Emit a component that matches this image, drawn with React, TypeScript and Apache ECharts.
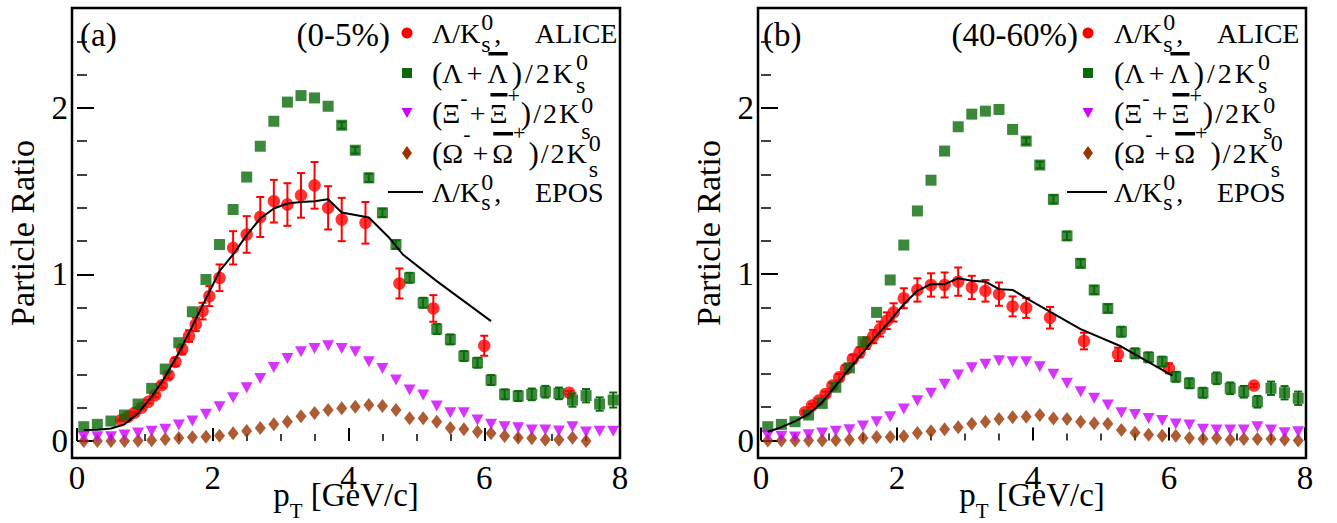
import React, { useEffect, useRef } from 'react';
import * as echarts from 'echarts';

const SERIF = "'Liberation Serif', 'Times New Roman', Times, 'DejaVu Serif', serif";
const RED = '#ff0000';
const GREEN = '#0a6a0a';
const VIOLET = '#cc00ff';
const BROWN = '#993300';

// pT bin centres (GeV/c) of the EPOS particle ratios
const ptBins = [
  0.1, 0.3, 0.5, 0.7, 0.9, 1.1, 1.3, 1.5, 1.7, 1.9, 2.1, 2.3, 2.5, 2.7, 2.9, 3.1, 3.3, 3.5, 3.7, 3.9,
  4.1, 4.3, 4.5, 4.7, 4.9, 5.1, 5.3, 5.5, 5.7, 5.9, 6.1, 6.3, 6.5, 6.7, 6.9, 7.1, 7.3, 7.5, 7.7, 7.9,
];

// ALICE Lambda/K0s measurement bins (GeV/c)
const alicePt = [
  0.65, 0.75, 0.85, 0.95, 1.05, 1.15, 1.25, 1.35, 1.45, 1.55, 1.65, 1.75, 1.85, 1.95, 2.1, 2.3, 2.5,
  2.7, 2.9, 3.1, 3.3, 3.5, 3.7, 3.9, 4.25, 4.75, 5.25, 6.0, 7.25,
];

// ---- (a) 0-5% ----
const aliceA = [
  0.125, 0.145, 0.17, 0.2, 0.235, 0.275, 0.335, 0.395, 0.475, 0.55, 0.63, 0.7, 0.78, 0.87, 0.98, 1.16,
  1.24, 1.345, 1.44, 1.42, 1.475, 1.535, 1.4, 1.33, 1.31, 0.946, 0.796, 0.572, 0.29,
];
const aliceErrA = [
  0.005, 0.005, 0.006, 0.008, 0.01, 0.012, 0.015, 0.02, 0.025, 0.03, 0.035, 0.04, 0.05, 0.06, 0.08, 0.1,
  0.11, 0.12, 0.128, 0.128, 0.134, 0.14, 0.13, 0.13, 0.125, 0.09, 0.08, 0.06, 0.01,
];
const lambdaA = [
  0.086, 0.1, 0.12, 0.156, 0.222, 0.316, 0.432, 0.59, 0.776, 0.97, 1.18, 1.39, 1.585, 1.77, 1.92, 2.035,
  2.074, 2.06, 2.01, 1.896, 1.746, 1.58, 1.37, 1.18, 0.98, 0.83, 0.672, 0.61, 0.51, 0.47, 0.366, 0.28,
  0.27, 0.28, 0.296, 0.286, 0.246, 0.272, 0.222, 0.246,
];
const lambdaErrA = [
  0, 0, 0, 0, 0, 0, 0, 0, 0, 0, 0, 0, 0, 0, 0, 0, 0, 0, 0, 0.02, 0.02, 0.025, 0.025, 0.025, 0.03, 0.03,
  0.03, 0.03, 0.03, 0.03, 0.03, 0.03, 0.03, 0.035, 0.035, 0.035, 0.04, 0.04, 0.04, 0.045,
];
const xiA = [
  0.026, 0.026, 0.026, 0.036, 0.048, 0.058, 0.07, 0.096, 0.12, 0.16, 0.206, 0.26, 0.32, 0.376, 0.442,
  0.496, 0.536, 0.556, 0.572, 0.556, 0.536, 0.476, 0.436, 0.366, 0.306, 0.276, 0.21, 0.17, 0.17, 0.126,
  0.1, 0.086, 0.08, 0.066, 0.066, 0.06, 0.086, 0.054, 0.058, 0.058,
];
const omegaA = [
  0.0, 0.0, 0.0, 0.0, 0.002, 0.005, 0.01, 0.018, 0.022, 0.026, 0.032, 0.046, 0.06, 0.078, 0.1, 0.115,
  0.148, 0.168, 0.186, 0.196, 0.206, 0.216, 0.21, 0.186, 0.136, 0.136, 0.116, 0.078, 0.07, 0.056, 0.046,
  0.03, 0.02, 0.016, 0.008, 0.008, 0.02, 0.0,
];
const eposPtA = [
  0.1, 0.3, 0.5, 0.7, 0.9, 1.1, 1.3, 1.5, 1.7, 1.9, 2.1, 2.3, 2.5, 2.7, 2.9, 3.1, 3.3, 3.5, 3.7, 3.9,
  4.3, 4.6, 4.8, 5.3, 6.1,
];
const eposA = [
  0.066, 0.068, 0.075, 0.1, 0.166, 0.266, 0.386, 0.53, 0.69, 0.855, 1.02, 1.12, 1.236, 1.336, 1.396,
  1.426, 1.435, 1.44, 1.452, 1.372, 1.342, 1.22, 1.12, 0.96, 0.72,
];

// ---- (b) 40-60% ----
const aliceB = [
  0.17, 0.21, 0.24, 0.28, 0.33, 0.38, 0.43, 0.49, 0.53, 0.585, 0.625, 0.67, 0.72, 0.77, 0.855, 0.905,
  0.935, 0.935, 0.955, 0.92, 0.9, 0.88, 0.806, 0.797, 0.738, 0.598, 0.518, 0.434, 0.33,
];
const aliceErrB = [
  0.008, 0.01, 0.012, 0.014, 0.016, 0.02, 0.022, 0.025, 0.03, 0.035, 0.04, 0.045, 0.05, 0.055, 0.06,
  0.07, 0.07, 0.075, 0.085, 0.07, 0.065, 0.07, 0.06, 0.06, 0.065, 0.05, 0.04, 0.03, 0.01,
];
const lambdaB = [
  0.083, 0.097, 0.113, 0.153, 0.223, 0.32, 0.437, 0.594, 0.77, 0.965, 1.175, 1.38, 1.565, 1.74, 1.886,
  1.962, 1.98, 1.99, 1.87, 1.8, 1.656, 1.45, 1.23, 1.065, 0.905, 0.794, 0.654, 0.524, 0.5, 0.474,
  0.383, 0.344, 0.287, 0.374, 0.314, 0.293, 0.233, 0.314, 0.287, 0.254,
];
const lambdaErrB = [
  0, 0, 0, 0, 0, 0, 0, 0, 0, 0, 0, 0, 0, 0, 0, 0, 0, 0, 0, 0.02, 0.02, 0.025, 0.025, 0.025, 0.025, 0.025,
  0.03, 0.03, 0.03, 0.03, 0.03, 0.03, 0.03, 0.035, 0.035, 0.035, 0.035, 0.04, 0.04, 0.04,
];
const xiB = [
  0.029, 0.025, 0.021, 0.035, 0.045, 0.055, 0.065, 0.087, 0.113, 0.143, 0.189, 0.239, 0.284, 0.338,
  0.394, 0.438, 0.458, 0.48, 0.474, 0.474, 0.444, 0.398, 0.344, 0.293, 0.254, 0.213, 0.167, 0.157,
  0.133, 0.12, 0.099, 0.093, 0.067, 0.063, 0.063, 0.063, 0.083, 0.063, 0.047, 0.053,
];
const omegaB = [
  0.0, 0.0, 0.0, 0.0, 0.0, 0.002, 0.005, 0.015, 0.021, 0.021, 0.025, 0.045, 0.055, 0.068, 0.079, 0.1,
  0.113, 0.13, 0.14, 0.143, 0.153, 0.133, 0.13, 0.113, 0.103, 0.1, 0.063, 0.047, 0.035, 0.029, 0.029,
  0.015, 0.009, 0.015, 0.005, 0.009, 0.009, 0.009, 0.005, 0.0,
];
const eposPtB = [
  0.1, 0.3, 0.5, 0.7, 0.9, 1.1, 1.3, 1.5, 1.7, 1.9, 2.1, 2.3, 2.5, 2.7, 2.9, 3.1, 3.3, 3.5, 3.7, 3.9,
  4.7, 5.3, 6.05,
];
const eposB = [
  0.053, 0.08, 0.115, 0.16, 0.23, 0.33, 0.43, 0.53, 0.63, 0.72, 0.82, 0.9, 0.94, 0.94, 0.975, 0.96,
  0.955, 0.91, 0.905, 0.856, 0.67, 0.565, 0.39,
];

const centralityLabels = ['(0-5%)', '(40-60%)'];
const panelTags = ['(a)', '(b)'];

type PanelData = {
  alice: number[];
  aliceErr: number[];
  lambda: number[];
  lambdaErr: number[];
  xi: number[];
  omega: number[];
  eposPt: number[];
  epos: number[];
};

const panels: PanelData[] = [
  { alice: aliceA, aliceErr: aliceErrA, lambda: lambdaA, lambdaErr: lambdaErrA, xi: xiA, omega: omegaA, eposPt: eposPtA, epos: eposA },
  { alice: aliceB, aliceErr: aliceErrB, lambda: lambdaB, lambdaErr: lambdaErrB, xi: xiB, omega: omegaB, eposPt: eposPtB, epos: eposB },
];

// frame geometry of the two pads: frame box and the pixel position of (0,0)
const pads = [
  { frameX: 72, frameW: 548, x0: 77, x8: 620, y0: 441 },
  { frameX: 758, frameW: 548, x0: 761, x8: 1305, y0: 440.5 },
];
const FRAME_TOP = 8;
const FRAME_BOTTOM = 458;
const Y_MAX = 2.6;

let measureCtx: CanvasRenderingContext2D | null = null;
function textWidth(t: string, size: number): number {
  if (!measureCtx) measureCtx = document.createElement('canvas').getContext('2d');
  measureCtx!.font = `${size}px ${SERIF}`;
  return measureCtx!.measureText(t).width;
}

function textEl(text: string, x: number, y: number, size: number, align = 'left', extra: any = {}) {
  return {
    type: 'text',
    x,
    y,
    silent: true,
    z: 50,
    ...extra,
    style: {
      text,
      fontSize: size,
      fontFamily: SERIF,
      fill: '#000',
      align,
      verticalAlign: 'middle',
      textAlign: align,
      textVerticalAlign: 'middle',
    },
  };
}

type Piece = { t: string; size?: number; dy?: number; gap?: number; bar?: number; stack?: boolean; at?: number };

// lays out a line of text made of sub/superscripted pieces
function textRun(pieces: Piece[], x0: number, cy: number, base = 28) {
  const els: any[] = [];
  let x = x0;
  let prevX = x0;
  for (const p of pieces) {
    const size = p.size ?? base;
    const w = textWidth(p.t, size);
    let px: number;
    if (p.stack) {
      px = prevX;
      x = Math.max(x, px + w);
    } else {
      px = p.at !== undefined ? x0 + p.at : x + (p.gap ?? 0);
      x = px + w;
      prevX = px;
    }
    els.push(textEl(p.t, px, cy + (p.dy ?? 0), size));
    if (p.bar !== undefined) {
      els.push({
        type: 'rect',
        x: px + 1,
        y: cy + p.bar,
        silent: true,
        z: 50,
        shape: { x: 0, y: 0, width: w - 1, height: 3.5 },
        style: { fill: '#000' },
      });
    }
  }
  return { els, width: x - x0 };
}

const SUP = 24;
const legendRows: Piece[][] = [
  [
    { t: 'Λ/K' },
    { t: '0', size: SUP, dy: -11, gap: 1 },
    { t: 's', size: SUP, dy: 11, stack: true },
    { t: ',', gap: 1 },
    { t: 'ALICE', at: 103 },
  ],
  [
    { t: '(', size: 31 },
    { t: 'Λ' },
    { t: '+', gap: 4 },
    { t: 'Λ', gap: 5, bar: -21 },
    { t: ')', size: 31, gap: 4 },
    { t: '/', gap: 3 },
    { t: '2', gap: 3 },
    { t: 'K', gap: 3 },
    { t: '0', size: SUP, dy: -11, gap: 3 },
    { t: 's', size: SUP, dy: 12, stack: true },
  ],
  [
    { t: '(', size: 31 },
    { t: 'Ξ' },
    { t: '-', size: 22, dy: -16 },
    { t: '+', gap: 2 },
    { t: 'Ξ', gap: 4, bar: -20 },
    { t: '+', size: 22, dy: -18 },
    { t: ')', size: 31, gap: 1 },
    { t: '/', gap: 2 },
    { t: '2', gap: 2 },
    { t: 'K', gap: 2 },
    { t: '0', size: SUP, dy: -8, gap: 2 },
    { t: 's', size: SUP, dy: 18, stack: true },
  ],
  [
    { t: '(', size: 31 },
    { t: 'Ω' },
    { t: '-', size: 22, dy: -20 },
    { t: '+', gap: 2 },
    { t: 'Ω', gap: 4, bar: -21 },
    { t: '+', size: 22, dy: -21 },
    { t: ')', size: 31, gap: 3 },
    { t: '/', gap: 2 },
    { t: '2', gap: 2 },
    { t: 'K', gap: 2 },
    { t: '0', size: SUP, dy: -10, gap: 2 },
    { t: 's', size: SUP, dy: 16, stack: true },
  ],
  [
    { t: 'Λ/K' },
    { t: '0', size: SUP, dy: -10, gap: 1 },
    { t: 's', size: SUP, dy: 10, stack: true },
    { t: ',', gap: 1 },
    { t: 'EPOS', at: 103 },
  ],
];
const legendRowY = [33, 73, 113, 153, 192];
const legendPos = [
  { marker: 407, text: 432, lineFrom: 388, lineTo: 423, tagX: 80, centRight: 390 },
  { marker: 1088, text: 1114, lineFrom: 1067, lineTo: 1107, tagX: 763, centRight: 1078 },
];

function legendMarkers(i: number): any[] {
  const m = legendPos[i].marker;
  const [y1, y2, y3, y4, y5] = legendRowY;
  return [
    { type: 'circle', silent: true, z: 50, shape: { cx: m, cy: y1, r: 5.5 }, style: { fill: RED } },
    { type: 'rect', silent: true, z: 50, shape: { x: m - 5, y: y2 - 5, width: 10, height: 10 }, style: { fill: GREEN } },
    {
      type: 'polygon', silent: true, z: 50,
      shape: { points: [[m - 5.5, y3 - 5], [m + 5.5, y3 - 5], [m, y3 + 5]] },
      style: { fill: VIOLET },
    },
    {
      type: 'polygon', silent: true, z: 50,
      shape: { points: [[m, y4 - 7], [m + 5, y4], [m, y4 + 7], [m - 5, y4]] },
      style: { fill: BROWN },
    },
    {
      type: 'line', silent: true, z: 50,
      shape: { x1: legendPos[i].lineFrom, y1: y5, x2: legendPos[i].lineTo, y2: y5 },
      style: { stroke: '#000', lineWidth: 2 },
    },
  ];
}

function errorBars(color: string, cap: number) {
  return (_params: any, api: any) => {
    const x = api.value(0);
    const y = api.value(1);
    const e = api.value(2);
    const top = api.coord([x, y + e]);
    const bot = api.coord([x, y - e]);
    const style = { stroke: color, lineWidth: 2 };
    return {
      type: 'group',
      children: [
        { type: 'line', shape: { x1: top[0], y1: top[1], x2: bot[0], y2: bot[1] }, style },
        { type: 'line', shape: { x1: top[0] - cap, y1: top[1], x2: top[0] + cap, y2: top[1] }, style },
        { type: 'line', shape: { x1: bot[0] - cap, y1: bot[1], x2: bot[0] + cap, y2: bot[1] }, style },
      ],
    };
  };
}

function panelSeries(i: number, d: PanelData): any[] {
  const axes = { xAxisIndex: i, yAxisIndex: i };
  const aliceErr = alicePt
    .map((p, k) => [p, d.alice[k], d.aliceErr[k]])
    .filter((r) => r[2] > 0);
  const lambdaErr = ptBins
    .map((p, k) => [p, d.lambda[k], d.lambdaErr[k]])
    .filter((r) => r[2] > 0);
  return [
    {
      type: 'custom', ...axes, z: 3, silent: true, encode: { x: 0, y: 1 },
      renderItem: errorBars(RED, 4), data: aliceErr,
    },
    {
      type: 'scatter', ...axes, z: 4, clip: false, silent: true,
      symbol: 'circle', symbolSize: 12.5, itemStyle: { color: RED },
      data: alicePt.map((p, k) => [p, d.alice[k]]),
    },
    {
      type: 'custom', ...axes, z: 5, silent: true, encode: { x: 0, y: 1 },
      renderItem: errorBars(GREEN, 4), data: lambdaErr,
    },
    {
      type: 'scatter', ...axes, z: 6, clip: false, silent: true,
      symbol: 'rect', symbolSize: 11, itemStyle: { color: GREEN },
      data: ptBins.map((p, k) => [p, d.lambda[k]]),
    },
    {
      type: 'scatter', ...axes, z: 7, clip: false, silent: true,
      symbol: 'diamond', symbolSize: [11, 14], itemStyle: { color: BROWN },
      data: d.omega.map((v, k) => [ptBins[k], v]),
    },
    {
      type: 'scatter', ...axes, z: 8, clip: false, silent: true,
      symbol: 'triangle', symbolRotate: 180, symbolSize: [12, 11], itemStyle: { color: VIOLET },
      data: ptBins.map((p, k) => [p, d.xi[k]]),
    },
    {
      type: 'line', ...axes, z: 9, silent: true, showSymbol: false, symbol: 'none',
      lineStyle: { color: '#000', width: 2 },
      data: d.eposPt.map((p, k) => [p, d.epos[k]]),
    },
  ];
}

export default function App() {
  const ref = useRef<HTMLDivElement>(null);

  useEffect(() => {
    if (!ref.current) return;
    const chart = echarts.init(ref.current, undefined, { renderer: 'svg' });

    const grids = pads.map((p) => ({
      left: p.x0,
      width: p.x8 - p.x0,
      top: FRAME_TOP,
      height: p.y0 - FRAME_TOP,
    }));

    const labelStyle = { fontFamily: SERIF, fontSize: 33, color: '#000' };

    const xAxes = pads.map((p, i) => ({
      type: 'value',
      gridIndex: i,
      min: 0,
      max: 8,
      interval: 2,
      offset: FRAME_BOTTOM - p.y0,
      axisLine: { show: false },
      axisTick: { show: true, inside: true, length: 13, lineStyle: { color: '#000', width: 2 } },
      minorTick: { show: true, splitNumber: 4, length: 7, lineStyle: { color: '#000', width: 1.5 } },
      splitLine: { show: false },
      axisLabel: { ...labelStyle, margin: 3, showMinLabel: true, showMaxLabel: true },
    }));

    const yAxes = pads.map((p, i) => ({
      type: 'value',
      gridIndex: i,
      min: 0,
      max: Y_MAX,
      interval: 1,
      offset: p.x0 - p.frameX,
      axisLine: { show: false },
      axisTick: { show: true, inside: true, length: 17, lineStyle: { color: '#000', width: 2 } },
      minorTick: { show: true, splitNumber: 5, length: 10, lineStyle: { color: '#000', width: 1.5 } },
      splitLine: { show: false },
      axisLabel: {
        ...labelStyle,
        margin: 4,
        formatter: (v: number) => (Number.isInteger(v) ? String(v) : ''),
      },
    }));

    const elements: any[] = [];
    pads.forEach((p, i) => {
      // pad frame
      elements.push({
        type: 'rect', silent: true, z: 40,
        shape: { x: p.frameX, y: FRAME_TOP, width: p.frameW, height: FRAME_BOTTOM - FRAME_TOP },
        style: { fill: 'none', stroke: '#000', lineWidth: 2.5 },
      });
      // y title
      elements.push(textEl('Particle Ratio', p.frameX - 50, 233, 34, 'center', { rotation: Math.PI / 2 }));
      // x title: p_T [GeV/c]
      const xt = textRun(
        [
          { t: 'p', size: 33 },
          { t: 'T', size: 21, dy: 16 },
          { t: ' [GeV/c]', size: 33 },
        ],
        0,
        495,
      );
      const cx = p.frameX + p.frameW / 2;
      xt.els.forEach((e) => { e.x += cx - xt.width / 2; });
      elements.push(...xt.els);
      // panel tag and centrality
      const lp = legendPos[i];
      elements.push(textEl(panelTags[i], lp.tagX, 35, 33));
      elements.push(textEl(centralityLabels[i], lp.centRight, 35, 33, 'right'));
      // legend
      elements.push(...legendMarkers(i));
      legendRows.forEach((row, r) => {
        elements.push(...textRun(row, lp.text, legendRowY[r]).els);
      });
    });

    chart.setOption({
      animation: false,
      backgroundColor: '#ffffff',
      grid: grids,
      xAxis: xAxes,
      yAxis: yAxes,
      series: panels.flatMap((d, i) => panelSeries(i, d)),
      graphic: { elements },
    });

    return () => chart.dispose();
  }, []);

  return (
    <div
      ref={ref}
      style={{ position: 'fixed', left: 0, top: 0, width: 1337, height: 523, background: '#fff' }}
    />
  );
}
